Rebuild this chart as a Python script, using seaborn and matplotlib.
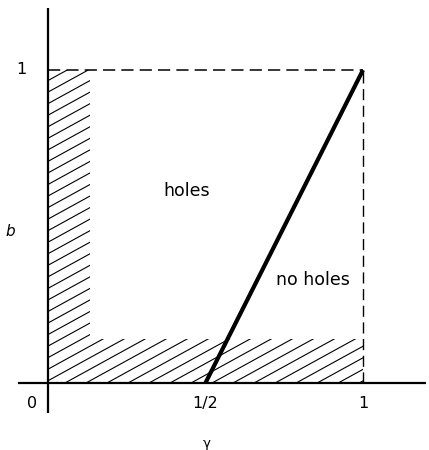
import numpy as np
import pandas as pd
import seaborn as sns
import matplotlib
matplotlib.use("Agg")
import matplotlib.pyplot as plt
from matplotlib.patches import Polygon
from matplotlib.collections import LineCollection

# Phase boundary between the "holes" and "no holes" regions
gamma_boundary = [0.5, 1.0]
b_boundary = [0.0, 1.0]

# Unit-square outline (dashed)
frame_top_x = [0.0, 1.0]
frame_top_y = [1.0, 1.0]
frame_right_x = [1.0, 1.0]
frame_right_y = [0.0, 1.0]

# Excluded (hatched) strips along the axes
strip_width_gamma = 0.133
strip_height_b = 0.14

# Tick labels
x_tick_values = [0.0, 0.5, 1.0]
x_tick_labels = ["0", "1/2", "1"]
y_tick_values = [1.0]
y_tick_labels = ["1"]

region_labels = ["holes", "no holes"]
region_pos = [(0.44, 0.615), (0.84, 0.33)]

sns.set_style("white")
plt.rcParams["font.family"] = ["DejaVu Sans"]
plt.rcParams["text.color"] = "black"

fig = plt.figure(figsize=(4.29, 4.50), dpi=100)
ax = fig.add_axes([0, 0, 1, 1])

XLIM = (-0.152, 1.2095)
YLIM = (-0.214, 1.2236)

# Coordinate axes
ax.plot([-0.095, 1.200], [0, 0], color="black", lw=1.6, solid_capstyle="butt")
ax.plot([0, 0], [-0.097, 1.197], color="black", lw=1.6, solid_capstyle="butt")

# L-shaped hatched region
L_shape = np.array([
    [0, 0], [1.0, 0], [1.0, strip_height_b], [strip_width_gamma, strip_height_b],
    [strip_width_gamma, 1.0], [0, 1.0]
])
clip = Polygon(L_shape, closed=True, facecolor="none", edgecolor="none")
ax.add_patch(clip)
slope = 0.553
spacing = 0.0667
phase = 0.054
offsets = phase + spacing * np.arange(-30, 20)
segs = [[(x0, 0.0), (x0 + 1.2 / slope, 1.2)] for x0 in offsets]
hatch = LineCollection(segs, colors="black", linewidths=0.8)
hatch.set_clip_path(clip)
ax.add_collection(hatch)

# Dashed frame
df_top = pd.DataFrame({"g": frame_top_x, "b": frame_top_y})
df_right = pd.DataFrame({"g": frame_right_x, "b": frame_right_y})
sns.lineplot(data=df_top, x="g", y="b", ax=ax, color="black", lw=1.1,
             estimator=None, linestyle=(0, (8, 4)), sort=False)
sns.lineplot(data=df_right, x="g", y="b", ax=ax, color="black", lw=1.0,
             estimator=None, linestyle=(0, (8, 4)), sort=False)

# Boundary line
df_bound = pd.DataFrame({"g": gamma_boundary, "b": b_boundary})
sns.lineplot(data=df_bound, x="g", y="b", ax=ax, color="black", lw=3.0,
             estimator=None, sort=False, solid_capstyle="butt")

ax.set_xlim(*XLIM)
ax.set_ylim(*YLIM)
ax.axis("off")

# Tick labels
for v, t in zip(x_tick_values, x_tick_labels):
    dx = -0.05 if v == 0 else 0.0
    ax.text(v + dx, -0.064, t, ha="center", va="center", fontsize=11.5, color="black")
for v, t in zip(y_tick_values, y_tick_labels):
    ax.text(-0.085, v, t, ha="center", va="center", fontsize=11.5, color="black")

# Axis names
ax.text(0.505, -0.193, "\u03b3", ha="center", va="center", fontsize=9.5, color="black")
ax.text(-0.120, 0.483, "b", ha="center", va="center", fontsize=11,
        style="italic", color="black")

# Region names
for t, (x, y) in zip(region_labels, region_pos):
    ax.text(x, y, t, ha="center", va="center", fontsize=12.5, color="black")

fig.savefig("out.png", dpi=100)
